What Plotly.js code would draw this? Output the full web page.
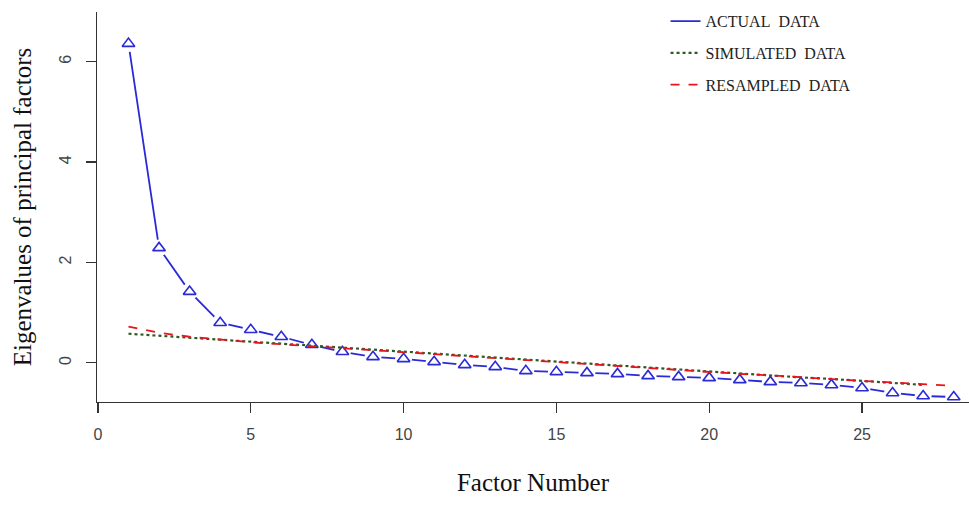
<!DOCTYPE html>
<html>
<head>
<meta charset="utf-8">
<script src="https://cdn.plot.ly/plotly-3.0.1.min.js"></script>
<style>html,body{margin:0;padding:0;background:#fff;}#chart{width:969px;height:506px;}</style>
</head>
<body>
<div id="chart"></div>
<script>
// Factor numbers
var factors = [1,2,3,4,5,6,7,8,9,10,11,12,13,14,15,16,17,18,19,20,21,22,23,24,25,26,27,28];
var factorsSim = [1,2,3,4,5,6,7,8,9,10,11,12,13,14,15,16,17,18,19,20,21,22,23,24,25,26,27];
// Eigenvalues
var actualData = [6.36,2.29,1.42,0.80,0.66,0.52,0.36,0.22,0.12,0.08,0.02,-0.04,-0.08,-0.16,-0.18,-0.20,-0.22,-0.26,-0.28,-0.30,-0.34,-0.38,-0.40,-0.44,-0.50,-0.60,-0.66,-0.68];
var simulatedData = [0.58,0.54,0.50,0.46,0.42,0.38,0.34,0.30,0.27,0.23,0.19,0.15,0.11,0.07,0.03,-0.01,-0.05,-0.09,-0.13,-0.17,-0.21,-0.25,-0.29,-0.32,-0.36,-0.39,-0.44];
var resampledData = [0.72,0.60,0.52,0.46,0.41,0.37,0.33,0.30,0.26,0.22,0.18,0.14,0.10,0.06,0.02,-0.02,-0.06,-0.10,-0.14,-0.18,-0.22,-0.25,-0.29,-0.33,-0.36,-0.39,-0.42,-0.46];
// Ticks and labels
var xTicks = [0,5,10,15,20,25];
var yTicks = [0,2,4,6];
var seriesNames = ['ACTUAL\u00a0\u00a0DATA','SIMULATED\u00a0\u00a0DATA','RESAMPLED\u00a0\u00a0DATA'];

var blue = '#2a2ad6';
var traces = [
  {x: factors, y: actualData, mode: 'lines', name: seriesNames[0], legendgroup: 'a',
   line: {color: blue, width: 1.8}},
  {x: factors, y: actualData, mode: 'markers', showlegend: false, hoverinfo: 'skip', legendgroup: 'a',
   marker: {symbol: 'circle', size: 17, color: '#ffffff', line: {width: 0}}},
  {x: factors, y: actualData, mode: 'markers', showlegend: false, legendgroup: 'a',
   marker: {symbol: 'triangle-up-open', size: 11, color: blue, line: {width: 1.6, color: blue}}},
  {x: factorsSim, y: simulatedData, mode: 'lines', name: seriesNames[1], legendgroup: 's',
   line: {color: '#2f5a26', width: 2.2, dash: 'dot'}},
  {x: factors, y: resampledData, mode: 'lines', name: seriesNames[2], legendgroup: 'r',
   line: {color: '#e8141c', width: 1.8, dash: 'dash'}}
];

var axisFont = {family: 'Liberation Sans, Arial, sans-serif', size: 16, color: '#444'};
var titleFont = {family: 'Liberation Serif, Times New Roman, serif', size: 25, color: '#111'};

var layout = {
  width: 969, height: 506,
  margin: {l: 97, r: 0, t: 12, b: 104},
  paper_bgcolor: '#fff', plot_bgcolor: '#fff',
  showlegend: true,
  legend: {x: 0.652, y: 1.02, xanchor: 'left', yanchor: 'top', traceorder: 'grouped', tracegroupgap: 8,
           font: {family: 'Liberation Serif, Times New Roman, serif', size: 16, color: '#222'},
           bgcolor: 'rgba(0,0,0,0)'},
  xaxis: {range: [-0.03, 28.5], tickvals: xTicks, ticktext: xTicks.map(String),
          showline: true, linecolor: '#333', linewidth: 1.2, ticks: 'outside', ticklen: 10, tickwidth: 1.2, tickcolor: '#333',
          showgrid: false, zeroline: false, tickfont: axisFont, ticklabelstandoff: 8,
          title: {text: 'Factor Number', font: titleFont, standoff: 31}},
  yaxis: {range: [-0.78, 6.99], tickvals: yTicks, ticktext: yTicks.map(String), tickangle: -90,
          showline: true, linecolor: '#333', linewidth: 1.2, ticks: 'outside', ticklen: 10, tickwidth: 1.2, tickcolor: '#333',
          showgrid: false, zeroline: false, tickfont: axisFont, ticklabelstandoff: 8,
          title: {text: 'Eigenvalues of principal factors', font: titleFont, standoff: 18}}
};

Plotly.newPlot('chart', traces, layout, {displayModeBar: false, staticPlot: true});
</script>
</body>
</html>
